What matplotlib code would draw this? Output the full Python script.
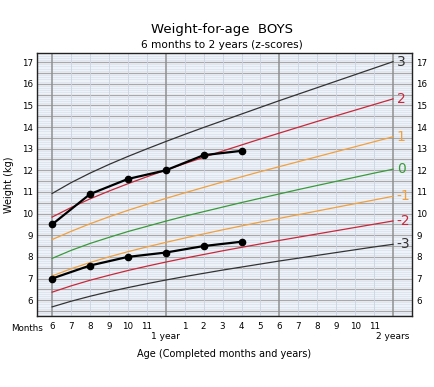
import numpy as np
import matplotlib.pyplot as plt

# WHO weight-for-age boys, months 6..24
months = list(range(6, 25))
sd_p3 = [10.93, 11.43, 11.87, 12.27, 12.64, 12.99, 13.33, 13.66, 13.98, 14.29, 14.60, 14.91, 15.22, 15.52, 15.82, 16.12, 16.42, 16.72, 17.02]
sd_p2 = [9.84, 10.28, 10.68, 11.04, 11.38, 11.70, 12.01, 12.31, 12.60, 12.89, 13.17, 13.45, 13.72, 13.99, 14.26, 14.52, 14.78, 15.04, 15.30]
sd_p1 = [8.80, 9.18, 9.53, 9.85, 10.15, 10.43, 10.70, 10.96, 11.21, 11.46, 11.70, 11.94, 12.17, 12.40, 12.63, 12.86, 13.09, 13.32, 13.55]
sd_0 = [7.93, 8.30, 8.62, 8.90, 9.17, 9.41, 9.65, 9.88, 10.09, 10.30, 10.51, 10.71, 10.91, 11.11, 11.30, 11.49, 11.68, 11.87, 12.05]
sd_m1 = [7.12, 7.45, 7.74, 8.00, 8.24, 8.46, 8.67, 8.87, 9.06, 9.25, 9.43, 9.61, 9.78, 9.95, 10.12, 10.29, 10.46, 10.63, 10.80]
sd_m2 = [6.37, 6.66, 6.92, 7.15, 7.37, 7.57, 7.76, 7.94, 8.11, 8.28, 8.44, 8.60, 8.76, 8.91, 9.06, 9.21, 9.36, 9.51, 9.66]
sd_m3 = [5.69, 5.95, 6.18, 6.39, 6.58, 6.76, 6.93, 7.09, 7.24, 7.39, 7.53, 7.67, 7.81, 7.94, 8.07, 8.20, 8.33, 8.46, 8.58]

curves = [sd_p3, sd_p2, sd_p1, sd_0, sd_m1, sd_m2, sd_m3]
curve_labels = ["3", "2", "1", "0", "-1", "-2", "-3"]
curve_colors = ["#333333", "#c8283a", "#f0a040", "#3a9a3a", "#f0a040", "#c8283a", "#333333"]

# children measured
child_months = [6, 8, 10, 12, 14, 16]
child_a = [9.5, 10.9, 11.6, 12.0, 12.7, 12.9]
child_b = [7.0, 7.6, 8.0, 8.2, 8.5, 8.7]

x_labels = ["6", "7", "8", "9", "10", "11", "", "1", "2", "3", "4", "5", "6", "7", "8", "9", "10", "11", ""]

fig = plt.figure(figsize=(4.35, 3.87), dpi=100)
ax = fig.add_axes([0.085, 0.183, 0.862, 0.68])
ax.set_facecolor("#eef3fa")

xmin, xmax = 5.2, 25.0
ymin, ymax = 5.26, 17.42
ax.set_xlim(xmin, xmax)
ax.set_ylim(ymin, ymax)

# grid: light lines every 0.1 kg, grey every 0.5 kg
for v in np.arange(5.3, 17.45, 0.1):
    v = round(v, 1)
    if abs(v * 2 - round(v * 2)) < 1e-6:
        ax.axhline(v, color="#a8a8a8", lw=0.9, zorder=1)
    else:
        ax.axhline(v, color="#d8dfea", lw=0.45, zorder=1)
for m in range(6, 25):
    if m % 6 == 0:
        ax.axvline(m, color="#909090", lw=1.1, zorder=1)
    else:
        ax.axvline(m, color="#ccd3df", lw=0.6, zorder=1)

for vals, lab, col in zip(curves, curve_labels, curve_colors):
    ax.plot(months, vals, color=col, lw=0.9, zorder=2)
    ax.text(24.2, vals[-1], lab, color=col, fontsize=10, va="center", ha="left", zorder=3)

ax.plot(child_months, child_a, color="black", lw=1.6, marker="o", ms=4.5, zorder=4)
ax.plot(child_months, child_b, color="black", lw=1.6, marker="o", ms=4.5, zorder=4)

ax.set_xticks(months)
ax.set_xticklabels(x_labels, fontsize=6.5)
ax.set_yticks(range(6, 18))
ax.tick_params(axis="both", length=0, labelsize=6.3, pad=3)
ax.tick_params(axis="x", pad=4.5)
ax.tick_params(axis="y", labelright=True)
ax.text(-0.07, -0.03, "Months", transform=ax.transAxes, fontsize=6.3, va="top", ha="left")
ax.text(12, ymin - 0.75, "1 year", fontsize=6.5, va="top", ha="center")
ax.text(24, ymin - 0.75, "2 years", fontsize=6.5, va="top", ha="center")
ax.text(0.5, -0.125, "Age (Completed months and years)", transform=ax.transAxes,
        fontsize=7, va="top", ha="center")
ax.set_ylabel("Weight (kg)", fontsize=7)
ax.yaxis.set_label_coords(-0.06, 0.5)

for s in ax.spines.values():
    s.set_color("#222222")
    s.set_linewidth(1.0)

fig.text(0.51, 0.923, "Weight-for-age  BOYS", fontsize=9.5, ha="center", va="center")
fig.text(0.51, 0.885, "6 months to 2 years (z-scores)", fontsize=7.6, ha="center", va="center")

fig.savefig("out.png", dpi=100)
